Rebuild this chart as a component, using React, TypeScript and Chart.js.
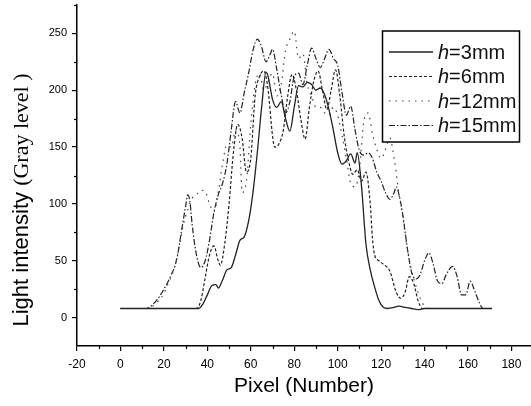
import React, { useEffect, useRef } from "react";
import { Chart, registerables } from "chart.js";

Chart.register(...registerables);

// ---- data ----
const h3X = [0, 10, 20, 30, 36, 38, 40, 42, 44, 45, 47, 49, 51, 53, 55, 57, 59, 61, 63, 65, 67, 68, 70, 72, 74, 76, 78, 80, 82, 84, 86, 88, 90, 92, 94, 96, 98, 100, 102, 104, 106, 108, 109, 111, 113, 115, 117, 119, 121, 123, 126, 128, 131, 134, 137, 140, 150, 160, 171];
const h3Y = [8, 8, 8, 8, 8, 12, 20, 28, 29, 26, 33, 42, 44, 55, 68, 71, 85, 110, 145, 185, 216, 212, 192, 185, 190, 175, 164, 185, 204, 203, 207, 205, 200, 202, 196, 183, 165, 145, 135, 138, 144, 136, 145, 115, 65, 42, 27, 15, 9, 8, 9, 10, 9, 8, 7, 8, 8, 8, 8];

const h6X = [0, 10, 20, 30, 35, 37, 39, 41, 43, 45, 46, 48, 50, 52, 54, 56, 58, 60, 62, 64, 66, 68, 70, 71, 73, 75, 77, 79, 81, 83, 85, 87, 89, 91, 93, 95, 97, 99, 101, 103, 105, 107, 109, 111, 113, 115, 116, 117, 119, 121, 124, 127, 129, 131, 133, 135, 137, 139, 150, 160, 171];
const h6Y = [8, 8, 8, 8, 8, 15, 35, 55, 63, 50, 46, 65, 100, 145, 170, 158, 128, 140, 195, 212, 217, 200, 160, 150, 153, 165, 195, 214, 200, 175, 157, 185, 208, 217, 200, 183, 200, 218, 195, 160, 138, 126, 130, 120, 128, 100, 70, 55, 50, 47, 41, 22, 17, 22, 36, 30, 15, 8, 8, 8, 8];

const h12X = [0, 10, 14, 16, 19, 22, 25, 27, 29, 31, 33, 35, 37, 39, 41, 43, 45, 47, 49, 51, 53, 55, 56, 58, 60, 62, 64, 66, 68, 70, 72, 74, 76, 78, 80, 82, 84, 86, 88, 90, 92, 94, 96, 98, 100, 102, 104, 106, 108, 110, 112, 114, 116, 118, 120, 122, 124, 126, 128, 130, 132, 134, 136, 138, 140, 142, 150, 160, 171];
const h12Y = [8, 8, 9, 12, 18, 30, 45, 62, 82, 95, 105, 108, 112, 111, 100, 93, 110, 135, 152, 150, 165, 150, 110, 120, 170, 205, 215, 200, 208, 215, 195, 205, 235, 245, 252, 228, 232, 205, 195, 185, 185, 180, 178, 185, 178, 160, 140, 118, 115, 130, 172, 180, 162, 148, 140, 148, 158, 140, 112, 88, 62, 42, 28, 17, 10, 8, 8, 8, 8];

const h15X = [0, 10, 12, 14, 17, 20, 23, 26, 28, 30, 31, 32, 33, 35, 37, 39, 41, 43, 45, 47, 49, 51, 53, 55, 57, 59, 61, 63, 65, 67, 69, 70, 72, 74, 76, 78, 80, 82, 84, 86, 88, 90, 92, 94, 96, 98, 100, 102, 104, 106, 108, 110, 112, 114, 116, 118, 120, 122, 124, 126, 127, 128, 130, 132, 134, 136, 138, 140, 142, 144, 146, 148, 150, 153, 155, 157, 159, 161, 163, 165, 167, 171];
const h15Y = [8, 8, 8, 10, 16, 25, 36, 52, 75, 98, 108, 102, 82, 55, 44, 50, 68, 92, 108, 118, 135, 165, 190, 180, 198, 215, 235, 245, 238, 225, 232, 236, 218, 196, 180, 190, 212, 215, 205, 222, 237, 228, 220, 228, 236, 228, 222, 198, 178, 186, 165, 147, 143, 145, 140, 128, 120, 110, 104, 110, 115, 110, 90, 62, 40, 34, 38, 50, 57, 47, 32, 30, 38, 45, 36, 20, 20, 32, 24, 14, 8, 8];

const seriesNames = ["3mm", "6mm", "12mm", "15mm"];
const xTickValues = [-20, 0, 20, 40, 60, 80, 100, 120, 140, 160, 180];
const yTickValues = [0, 50, 100, 150, 200, 250];
const xMinorValues = [-10, 10, 30, 50, 70, 90, 110, 130, 150, 170];
const yMinorValues = [25, 75, 125, 175, 225, 275];

const SANS = "'Liberation Sans', Arial, Helvetica, sans-serif";
const SERIF = "'Liberation Serif', 'Times New Roman', serif";

function pts(xs: number[], ys: number[]) {
  return xs.map((x, i) => ({ x, y: ys[i] }));
}

const decorPlugin = {
  id: "decor",
  afterDraw(chart: any) {
    const ctx = chart.ctx as CanvasRenderingContext2D;
    const xs = chart.scales.x;
    const ys = chart.scales.y;
    const area = chart.chartArea;
    ctx.save();
    ctx.strokeStyle = "#000";
    ctx.lineWidth = 1.2;
    ctx.setLineDash([]);
    // minor ticks
    for (const v of xMinorValues) {
      const px = Math.round(xs.getPixelForValue(v)) + 0.5;
      ctx.beginPath();
      ctx.moveTo(px, area.bottom);
      ctx.lineTo(px, area.bottom + 3);
      ctx.stroke();
    }
    for (const v of yMinorValues) {
      const py = Math.round(ys.getPixelForValue(v)) + 0.5;
      ctx.beginPath();
      ctx.moveTo(area.left, py);
      ctx.lineTo(area.left - 3, py);
      ctx.stroke();
    }
    // y-axis title (mixed fonts)
    const part1 = "Light intensity ";
    const part2 = "(Gray level )";
    ctx.fillStyle = "#000";
    ctx.font = `22px ${SANS}`;
    const w1 = ctx.measureText(part1).width;
    ctx.font = `22px ${SERIF}`;
    const w2 = ctx.measureText(part2).width;
    const cy = 200;
    ctx.translate(28, cy);
    ctx.rotate(-Math.PI / 2);
    ctx.textBaseline = "alphabetic";
    ctx.textAlign = "left";
    const start = -(w1 + w2) / 2;
    ctx.font = `22px ${SANS}`;
    ctx.fillText(part1, start, 0);
    ctx.font = `22px ${SERIF}`;
    ctx.fillText(part2, start + w1, 0);
    ctx.restore();

    // legend box
    ctx.save();
    const bx = 382.5, by = 31, bw = 137, bh = 111;
    ctx.strokeStyle = "#000";
    ctx.lineWidth = 1.5;
    ctx.strokeRect(bx, by, bw, bh);
    const rows = [52, 76.5, 101, 125.5];
    chart.data.datasets.forEach((ds: any, i: number) => {
      const y = rows[i];
      ctx.strokeStyle = ds.borderColor;
      ctx.lineWidth = ds.borderWidth;
      ctx.setLineDash(ds.borderDash || []);
      ctx.beginPath();
      ctx.moveTo(389, y);
      ctx.lineTo(433, y);
      ctx.stroke();
      ctx.setLineDash([]);
      ctx.fillStyle = "#111";
      ctx.textBaseline = "middle";
      ctx.textAlign = "left";
      ctx.font = `italic 20px ${SANS}`;
      ctx.fillText("h", 438, y + 1);
      const wh = ctx.measureText("h").width;
      ctx.font = `20px ${SANS}`;
      ctx.fillText("=" + seriesNames[i], 438 + wh, y + 1);
    });
    ctx.restore();
  },
};

export default function App() {
  const ref = useRef<HTMLCanvasElement | null>(null);
  useEffect(() => {
    if (!ref.current) return;
    const common = {
      fill: false,
      pointRadius: 0,
      cubicInterpolationMode: "monotone" as const,
      borderColor: "#222",
    };
    const chart = new Chart(ref.current, {
      type: "line",
      data: {
        datasets: [
          { ...common, label: "h=" + seriesNames[0], data: pts(h3X, h3Y), borderWidth: 1.3, borderDash: [] },
          { ...common, label: "h=" + seriesNames[1], data: pts(h6X, h6Y), borderWidth: 1.2, borderDash: [3, 2] },
          { ...common, label: "h=" + seriesNames[2], data: pts(h12X, h12Y), borderWidth: 1.2, borderDash: [1.5, 5], borderColor: "#444" },
          { ...common, label: "h=" + seriesNames[3], data: pts(h15X, h15Y), borderWidth: 1.2, borderDash: [6, 2, 1.5, 2] },
        ],
      },
      options: {
        animation: false,
        responsive: false,
        maintainAspectRatio: false,
        layout: { padding: { top: 5, right: 0, left: 0, bottom: 0 } },
        plugins: { legend: { display: false }, tooltip: { enabled: false } },
        scales: {
          x: {
            type: "linear",
            min: -20,
            max: 189,
            afterBuildTicks: (s: any) => {
              s.ticks = xTickValues.map((v) => ({ value: v }));
            },
            afterFit: (s: any) => {
              s.height = 60;
              s.paddingLeft = 0;
              s.paddingRight = 0;
            },
            grid: { display: true, drawOnChartArea: false, drawTicks: true, tickLength: 5, color: "#000", lineWidth: 1.2 },
            border: { display: true, color: "#000", width: 1.5 },
            ticks: { color: "#000", font: { family: SANS, size: 12 }, padding: 6, maxRotation: 0, autoSkip: false },
            title: { display: true, text: "Pixel (Number)", color: "#000", font: { family: SANS, size: 21 }, padding: { top: 0, bottom: 7 } },
          },
          y: {
            type: "linear",
            min: -25,
            max: 275,
            afterBuildTicks: (s: any) => {
              s.ticks = yTickValues.map((v) => ({ value: v }));
            },
            afterFit: (s: any) => {
              s.width = 77;
              s.paddingTop = 0;
              s.paddingBottom = 0;
            },
            grid: { display: true, drawOnChartArea: false, drawTicks: true, tickLength: 5, color: "#000", lineWidth: 1.2 },
            border: { display: true, color: "#000", width: 1.5 },
            ticks: { color: "#000", font: { family: SANS, size: 11 }, padding: 5 },
            title: { display: false },
          },
        },
      },
      plugins: [decorPlugin],
    });
    return () => chart.destroy();
  }, []);
  return (
    <div style={{ position: "absolute", left: 0, top: 0, width: 531, height: 406, background: "#fff" }}>
      <canvas ref={ref} width={531} height={406} />
    </div>
  );
}
